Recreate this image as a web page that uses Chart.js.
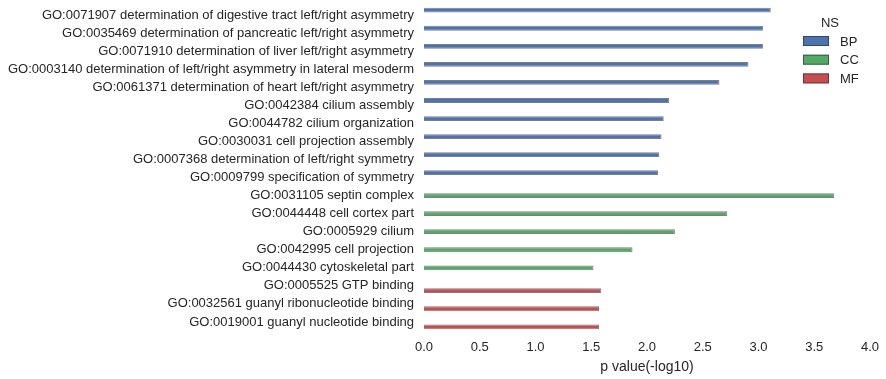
<!DOCTYPE html>
<html>
<head>
<meta charset="utf-8">
<script src="https://cdn.jsdelivr.net/npm/chart.js@4"></script>
<style>
  html, body { margin: 0; padding: 0; background: #fff; }
  #wrap { width: 886px; height: 379px; }
</style>
</head>
<body>
<div id="wrap"><canvas id="goChart" width="886" height="379"></canvas></div>
<script>
const terms = [
    'GO:0071907 determination of digestive tract left/right asymmetry',
    'GO:0035469 determination of pancreatic left/right asymmetry',
    'GO:0071910 determination of liver left/right asymmetry',
    'GO:0003140 determination of left/right asymmetry in lateral mesoderm',
    'GO:0061371 determination of heart left/right asymmetry',
    'GO:0042384 cilium assembly',
    'GO:0044782 cilium organization',
    'GO:0030031 cell projection assembly',
    'GO:0007368 determination of left/right symmetry',
    'GO:0009799 specification of symmetry',
    'GO:0031105 septin complex',
    'GO:0044448 cell cortex part',
    'GO:0005929 cilium',
    'GO:0042995 cell projection',
    'GO:0044430 cytoskeletal part',
    'GO:0005525 GTP binding',
    'GO:0032561 guanyl ribonucleotide binding',
    'GO:0019001 guanyl nucleotide binding'
];
const bpValues = [3.11, 3.04, 3.04, 2.91, 2.65, 2.20, 2.15, 2.13, 2.11, 2.10,
    null, null, null, null, null, null, null, null];
const ccValues = [null, null, null, null, null, null, null, null, null, null,
    3.68, 2.72, 2.25, 1.87, 1.52, null, null, null];
const mfValues = [null, null, null, null, null, null, null, null, null, null,
    null, null, null, null, null, 1.59, 1.57, 1.57];
const xTicks = [0, 0.5, 1, 1.5, 2, 2.5, 3, 3.5, 4];

const textColor = '#262626';
const fontFamily = '"Liberation Sans", Arial, sans-serif';
const edgeColor = 'rgba(40, 40, 40, 0.6)';

const series = [
    { label: 'BP', data: bpValues, fill: '#4C72B0' },
    { label: 'CC', data: ccValues, fill: '#55A868' },
    { label: 'MF', data: mfValues, fill: '#C44E52' }
];

// small legend drawn inside the plot, top right
const nsLegend = {
    id: 'nsLegend',
    afterDraw(chart) {
        const ctx = chart.ctx;
        const x0 = chart.chartArea.right - 67;
        ctx.save();
        ctx.font = '13px ' + fontFamily;
        ctx.fillStyle = textColor;
        ctx.textAlign = 'center';
        ctx.textBaseline = 'middle';
        ctx.fillText('NS', x0 + 27, 23);
        ctx.textAlign = 'left';
        series.forEach((s, i) => {
            const y = 36 + i * 18.7;
            ctx.fillStyle = s.fill;
            ctx.fillRect(x0, y, 26, 10);
            ctx.strokeStyle = edgeColor;
            ctx.lineWidth = 1;
            ctx.strokeRect(x0 + 0.5, y + 0.5, 25, 9);
            ctx.fillStyle = textColor;
            ctx.fillText(s.label, x0 + 37, y + 6);
        });
        ctx.restore();
    }
};

const ctx = document.getElementById('goChart').getContext('2d');
const goChart = new Chart(ctx, {
    type: 'bar',
    data: {
        labels: terms,
        datasets: series.map(s => ({
            label: s.label,
            data: s.data,
            backgroundColor: s.fill,
            borderColor: edgeColor,
            borderWidth: 1,
            categoryPercentage: 0.8,
            barPercentage: 1.0
        }))
    },
    options: {
        indexAxis: 'y',
        responsive: false,
        animation: false,
        layout: { padding: { top: 6, right: 16, bottom: 0, left: 0 } },
        plugins: {
            legend: { display: false },
            tooltip: { enabled: false }
        },
        scales: {
            x: {
                min: 0,
                max: 4,
                grid: { display: false, drawTicks: false },
                border: { display: false },
                afterBuildTicks: (scale) => {
                    scale.ticks = xTicks.map(v => ({ value: v }));
                },
                afterFit: (scale) => {
                    scale.height = 48;
                    scale.paddingLeft = 0;
                    scale.paddingRight = 0;
                },
                ticks: {
                    padding: 9,
                    color: textColor,
                    font: { family: fontFamily, size: 13 },
                    callback: (v) => Number(v).toFixed(1)
                },
                title: {
                    display: true,
                    text: 'p value(-log10)',
                    color: textColor,
                    font: { family: fontFamily, size: 14 },
                    padding: { top: 0, bottom: 3 }
                }
            },
            y: {
                grid: { display: false, drawTicks: false },
                border: { display: false },
                afterFit: (scale) => {
                    scale.width = 424;
                    scale.paddingTop = 0;
                    scale.paddingBottom = 0;
                },
                ticks: {
                    padding: 10,
                    color: textColor,
                    font: { family: fontFamily, size: 13 },
                    autoSkip: false
                }
            }
        }
    },
    plugins: [nsLegend]
});
</script>
</body>
</html>
